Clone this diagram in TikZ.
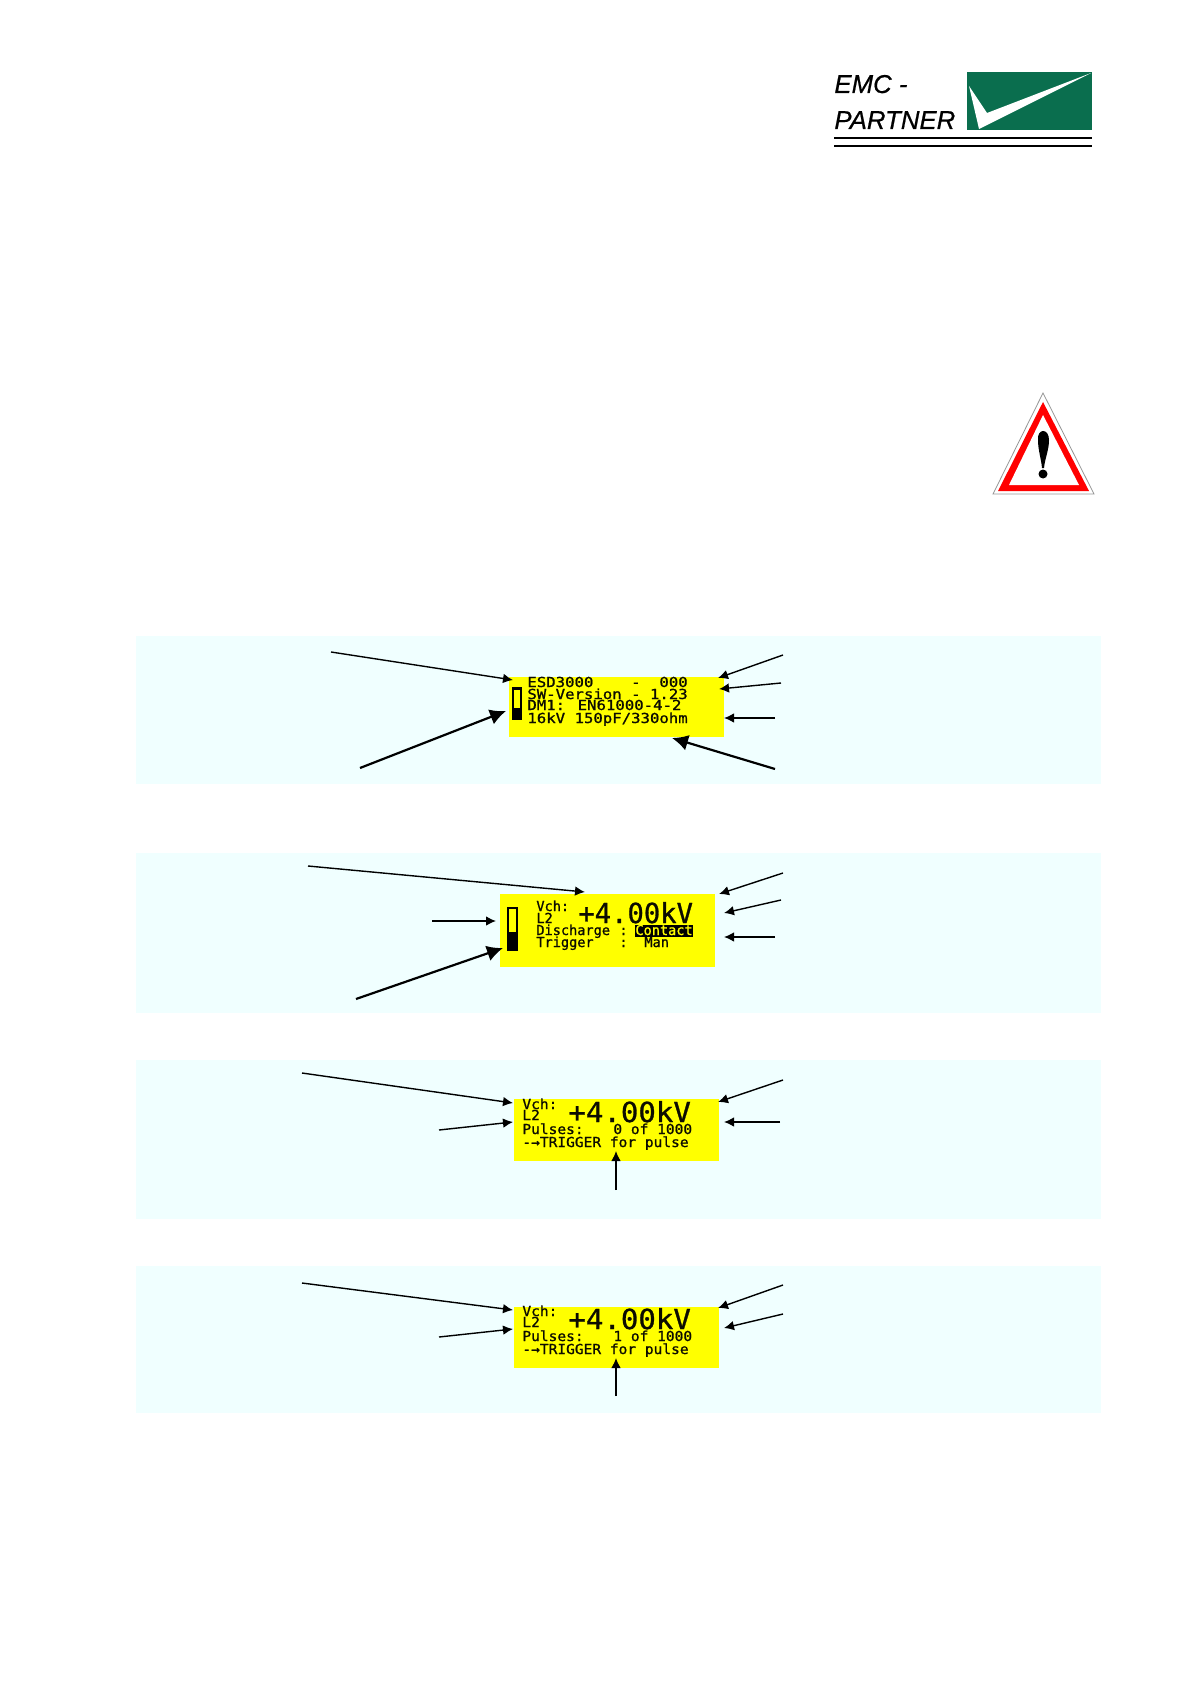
\documentclass[tikz,border=0pt]{standalone}
\usepackage{fontspec}
\usepackage{tikz}
\usetikzlibrary{arrows.meta}
\newfontfamily\logofont[FakeBold=0.6]{Liberation Sans}
\newfontfamily\lcdwide[FakeStretch=1.135,FakeBold=1]{DejaVu Sans Mono}
\newfontfamily\lcdnarrow[FakeStretch=0.985,FakeBold=1]{DejaVu Sans Mono}
\newfontfamily\lcdmid[FakeStretch=1.053,FakeBold=1]{DejaVu Sans Mono}
\definecolor{ink}{RGB}{12,12,0}
\definecolor{panelblue}{RGB}{240,255,255}
\definecolor{lcdyellow}{RGB}{255,255,0}
\definecolor{logogreen}{RGB}{10,110,78}
\definecolor{signred}{RGB}{255,0,0}
\definecolor{signgray}{RGB}{150,150,150}
\newcommand{\smallsize}{\fontsize{6.9}{7}\selectfont}
\newcommand{\bigsize}{\fontsize{13.8}{14}\selectfont}
\tikzset{
  panelbg/.style={fill=panelblue},
  lcdbg/.style={fill=lcdyellow},
  callout/.style={black,line width=0.7pt,-{Latex[length=5pt,width=4.8pt]}},
  heavycallout/.style={black,line width=1.1pt,-{Latex[length=8pt,width=8pt]}},
  lcdtext/.style={anchor=base west,inner sep=0pt,text=ink},
  logotext/.style={anchor=base west,inner sep=0pt,font=\logofont\itshape\fontsize{12.9}{13}\selectfont}
}
\begin{document}
\begin{tikzpicture}[x=0.5pt,y=-0.5pt]
  \useasboundingbox (0,0) rectangle (1190,1684);
  % logo
  \node[logotext] (emc) at (834,93) {EMC -};
  \node[logotext] (partner) at (834,129) {PARTNER};
  \fill[logogreen] (967,72) rectangle (1092,130);
  \fill[white] (969,86)--(979,129)--(1091,73)--(987,113)--cycle;
  \draw[black,line width=1pt] (834,138)--(1092,138);
  \draw[black,line width=0.7pt] (834,146)--(1092,146);
  % warning sign
  \draw[signgray,line width=0.4pt] (1043,393)--(993,494)--(1094,494)--cycle;
  \fill[signred] (1043,402)--(998,491)--(1089,491)--cycle;
  \fill[white] (1043,415)--(1009,485)--(1079,485)--cycle;
  \fill[black] (1038,440) .. controls (1037,428) and (1049,428) .. (1049,440)
    .. controls (1049,450) and (1045,458) .. (1044,468)--(1042,468)
    .. controls (1041,458) and (1038,450) .. (1038,440)--cycle;
  \fill[black] (1043,474) circle[radius=4.5];
  % panels
  \path[panelbg] (136,636) rectangle (1101,784);
  \path[panelbg] (136,853) rectangle (1101,1013);
  \path[panelbg] (136,1060) rectangle (1101,1219);
  \path[panelbg] (136,1266) rectangle (1101,1413);
  % displays
  \path[lcdbg] (509,677) rectangle (724,737);
  \path[lcdbg] (500,894) rectangle (715,967);
  \path[lcdbg] (514,1099) rectangle (719,1161);
  \path[lcdbg] (514,1307) rectangle (719,1368);
  % battery gauges
  \fill[black] (512,687) rectangle (522,720);
  \fill[lcdyellow] (514,690) rectangle (520,708);
  \fill[black] (507,907) rectangle (518,951);
  \fill[lcdyellow] (509,909) rectangle (516,932);
  % first display
  \begin{scope}[every node/.append style={lcdtext,font=\lcdwide\smallsize}]
    \node (esd) at (527,687) {ESD3000~~~~-~~000};
    \node (version) at (527,699) {SW-Version - 1.23};
    \node (norm) at (527,710) {DM1: EN61000-4-2};
    \node (network) at (527,723) {16kV 150pF/330ohm};
  \end{scope}
  % second display
  \fill[black] (635,925) rectangle (693,937);
  \begin{scope}[every node/.append style={lcdtext,font=\lcdnarrow\smallsize}]
    \node (vchb) at (536,911) {Vch:};
    \node (lineb) at (536,923) {L2};
    \node[font=\lcdnarrow\bigsize] (voltb) at (578,923) {+4.00kV};
    \node (discharge) at (536,935) {Discharge};
    \node (dischcolon) at (619,935) {:};
    \node[text=lcdyellow] (contact) at (635,935) {Contact};
    \node (trigger) at (536,947) {Trigger};
    \node (trigcolon) at (619,947) {:};
    \node (manual) at (644,947) {Man};
  \end{scope}
  % third and fourth display
  \begin{scope}[every node/.append style={lcdtext,font=\lcdmid\smallsize}]
    \node (vchc) at (522,1109) {Vch:};
    \node (linec) at (522,1120) {L2};
    \node[font=\lcdmid\bigsize] (voltc) at (568,1122) {+4.00kV};
    \node (pulsesc) at (522,1134) {Pulses:};
    \node (countc) at (613,1134) {0 of 1000};
    \node (pressc) at (522,1147) {-→TRIGGER for pulse};
    \node (vchd) at (522,1316) {Vch:};
    \node (lined) at (522,1327) {L2};
    \node[font=\lcdmid\bigsize] (voltd) at (568,1329) {+4.00kV};
    \node (pulsesd) at (522,1341) {Pulses:};
    \node (countd) at (613,1341) {1 of 1000};
    \node (pressd) at (522,1354) {-→TRIGGER for pulse};
  \end{scope}
  % callouts of first display
  \coordinate (a1) at (331,652); \coordinate (a1t) at (513,680);
  \coordinate (a2) at (783,655); \coordinate (a2t) at (718,678);
  \coordinate (a3) at (781,683); \coordinate (a3t) at (719,689);
  \coordinate (a4) at (775,718); \coordinate (a4t) at (724,718);
  \coordinate (a5) at (775,769); \coordinate (a5t) at (672,738);
  \coordinate (a6) at (360,768); \coordinate (a6t) at (506,711);
  \draw[callout] (a1)--(a1t);
  \draw[callout] (a2)--(a2t);
  \draw[callout] (a3)--(a3t);
  \draw[callout] (a4)--(a4t);
  \draw[heavycallout] (a5)--(a5t);
  \draw[heavycallout] (a6)--(a6t);
  % callouts of second display
  \coordinate (b1) at (308,866); \coordinate (b1t) at (585,892);
  \coordinate (b2) at (783,873); \coordinate (b2t) at (719,894);
  \coordinate (b3) at (781,900); \coordinate (b3t) at (724,913);
  \coordinate (b4) at (775,937); \coordinate (b4t) at (724,937);
  \coordinate (b5) at (432,921); \coordinate (b5t) at (496,921);
  \coordinate (b6) at (356,999); \coordinate (b6t) at (503,948);
  \draw[callout] (b1)--(b1t);
  \draw[callout] (b2)--(b2t);
  \draw[callout] (b3)--(b3t);
  \draw[callout] (b4)--(b4t);
  \draw[callout] (b5)--(b5t);
  \draw[heavycallout] (b6)--(b6t);
  % callouts of third display
  \coordinate (c1) at (302,1073); \coordinate (c1t) at (513,1103);
  \coordinate (c2) at (783,1080); \coordinate (c2t) at (718,1102);
  \coordinate (c3) at (780,1122); \coordinate (c3t) at (724,1122);
  \coordinate (c4) at (439,1130); \coordinate (c4t) at (513,1122);
  \coordinate (c5) at (616,1190); \coordinate (c5t) at (616,1151);
  \foreach \p in {c1,c2,c3,c4,c5} {\draw[callout] (\p)--(\p t);}
  % callouts of fourth display
  \coordinate (d1) at (302,1283); \coordinate (d1t) at (513,1310);
  \coordinate (d2) at (783,1285); \coordinate (d2t) at (718,1308);
  \coordinate (d3) at (783,1314); \coordinate (d3t) at (724,1328);
  \coordinate (d4) at (439,1337); \coordinate (d4t) at (513,1329);
  \coordinate (d5) at (616,1396); \coordinate (d5t) at (616,1358);
  \foreach \p in {d1,d2,d3,d4,d5} {\draw[callout] (\p)--(\p t);}
\end{tikzpicture}
\end{document}
